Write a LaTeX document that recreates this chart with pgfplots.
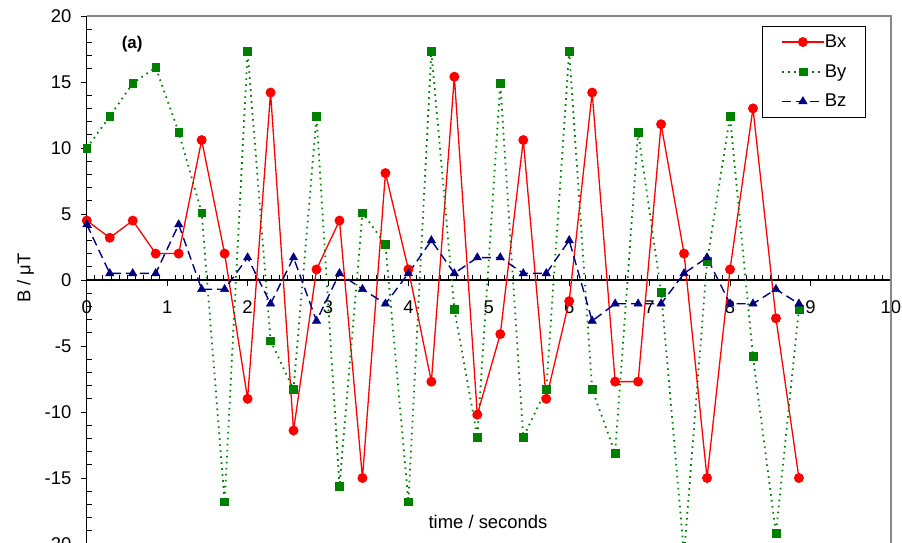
\documentclass[border=0pt]{standalone}
\usepackage{fontspec}
\setmainfont{Liberation Sans}
\usepackage{pgfplots}
\pgfplotsset{compat=1.18}
\usepackage{pgfplotstable}
\definecolor{exred}{RGB}{255,0,0}
\definecolor{exgreen}{RGB}{0,128,0}
\definecolor{exnavy}{RGB}{0,0,128}
\definecolor{framegray}{RGB}{136,136,136}

\pgfplotstableread{
t      Bx     By     Bz
0      4.5    10.0   4.2
0.2857 3.2    12.4   0.5
0.5714 4.5    14.9   0.5
0.8571 2.0    16.1   0.5
1.1429 2.0    11.2   4.2
1.4286 10.6   5.1   -0.7
1.7143 2.0   -16.8  -0.7
2.0   -9.0    17.3   1.7
2.2857 14.2  -4.6   -1.8
2.5714 -11.4 -8.3    1.7
2.8571 0.8    12.4  -3.1
3.1429 4.5   -15.6   0.5
3.4286 -15.0  5.1   -0.7
3.7143 8.1    2.7   -1.8
4.0    0.8   -16.8   0.5
4.2857 -7.7   17.3   3.0
4.5714 15.4  -2.2    0.5
4.8571 -10.2 -11.9   1.7
5.1429 -4.1   14.9   1.7
5.4286 10.6  -11.9   0.5
5.7143 -9.0  -8.3    0.5
6.0   -1.6    17.3   3.0
6.2857 14.2  -8.3   -3.1
6.5714 -7.7  -13.1  -1.8
6.8571 -7.7   11.2  -1.8
7.1429 11.8  -0.9   -1.8
7.4286 2.0   -20.8   0.5
7.7143 -15.0  1.4    1.7
8.0    0.8    12.4  -1.8
8.2857 13.0  -5.8   -1.8
8.5714 -2.9  -19.2  -0.7
8.8571 -15.0 -2.2   -1.8
}\datatable

\begin{document}
\begin{tikzpicture}[font=\fontsize{18.5}{22}\selectfont]
\begin{axis}[
  x=80.4bp, y=13.2bp,
  xmin=0, xmax=10, ymin=-20, ymax=20,
  axis x line=middle, axis y line=left,
  axis line style={-, black, line width=1.1bp},
  clip=false,
  xtick={0,1,...,10}, ytick={-20,-15,...,20},
  minor x tick num=9, minor y tick num=4,
  tick align=center,
  major tick length=6bp, minor tick length=5bp,
  tick style={black, line width=0.8bp},
  major x tick style={yshift=-3bp},
  minor x tick style={yshift=2.5bp},
  major y tick style={xshift=-3bp},
  minor y tick style={xshift=2.5bp},
  hide obscured x ticks=false, hide obscured y ticks=false,
  /pgf/number format/assume math mode=true,
  xticklabel style={anchor=north, yshift=-14bp},
  yticklabel style={anchor=east, xshift=-9bp},
  legend style={at={(0.9688,0.981)}, anchor=north east, draw=black, line width=0.8bp,
    fill=white, inner xsep=19bp, inner ysep=8.5bp, row sep=15.5bp,
    nodes={inner sep=0bp},
    /tikz/every even column/.append style={column sep=4bp},
    font=\fontsize{18.5}{22}\selectfont},
  legend cell align=left,
  legend image code/.code={\draw[mark repeat=2, mark phase=2, #1] plot coordinates {(0bp,0bp) (21bp,0bp) (42bp,0bp)};},
]
\draw[framegray, line width=1.5bp] (axis cs:0,20) -- (axis cs:10,20) -- (axis cs:10,-20);

\addplot[exred, solid, line width=1.3bp, mark=*, mark size=4.3bp, mark options={solid, fill=exred, draw=exred}]
  table[x=t, y=Bx] {\datatable};
\addlegendentry{Bx}
\addplot[exgreen, line width=1.8bp, dash pattern=on 1.6bp off 4.4bp, mark=square*, mark size=3.9bp, mark options={solid, fill=exgreen, draw=exgreen, line width=0.5bp}]
  table[x=t, y=By] {\datatable};
\addlegendentry{By}
\addplot[exnavy, line width=1.4bp, dash pattern=on 9bp off 5bp, mark=triangle*, mark size=4.8bp, mark options={solid, fill=exnavy, draw=exnavy, line width=0.5bp}]
  table[x=t, y=Bz] {\datatable};
\addlegendentry{Bz}

\node[font=\fontsize{17}{20}\selectfont\bfseries] at (axis cs:0.564,17.88) {(a)};
\node at (axis cs:4.99,-18.3) {time / seconds};
\node[rotate=90] at (axis cs:-0.763,0.15) {B / μT};

\coordinate (BBll) at (axis cs:-1.0796,-19.9242);
\coordinate (BBur) at (axis cs:10.1393,21.2121);
\end{axis}
\pgfresetboundingbox
\path[use as bounding box] (BBll) rectangle (BBur);
\end{tikzpicture}
\end{document}
